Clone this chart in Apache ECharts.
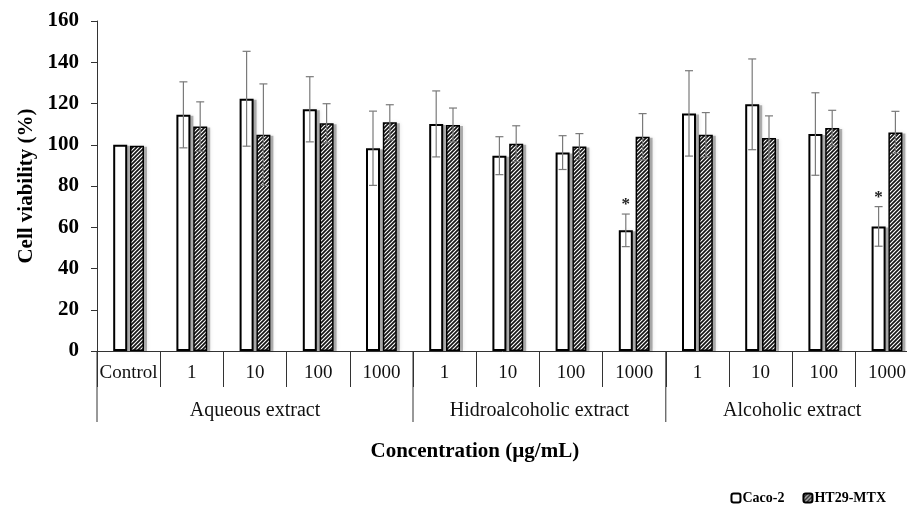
<!DOCTYPE html>
<html>
<head>
<meta charset="utf-8">
<script src="https://cdn.jsdelivr.net/npm/echarts@6/dist/echarts.min.js"></script>
<style>
  html, body { margin: 0; padding: 0; background: #fff; }
  #chart { width: 907px; height: 507px; }
</style>
</head>
<body>
<div id="chart"></div>
<script>
// concentrations (µg/mL), one per bar pair
const categories = ['Control', '1', '10', '100', '1000', '1', '10', '100', '1000', '1', '10', '100', '1000'];
// extract groups: first and last category index
const groupNames = ['Aqueous extract', 'Hidroalcoholic extract', 'Alcoholic extract'];
const groupStart = [0, 5, 9];
const groupEnd = [4, 8, 12];

const cacoMean = [100, 114.5, 122.3, 117.2, 98.3, 110.1, 94.7, 96.2, 58.5, 115.2, 119.6, 105.2, 60.4];
const cacoErr = [0, 16, 23, 15.8, 18, 16, 9.2, 8.2, 7.9, 20.7, 22, 20, 9.6];
const htMean = [99.5, 108.8, 104.9, 110.4, 110.9, 109.6, 100.5, 99.1, 103.9, 104.9, 103.3, 108.1, 106];
const htErr = [0, 12, 24.6, 9.5, 8.5, 8.2, 8.7, 6.3, 11.2, 10.7, 10.7, 8.6, 10.2];
const cacoSig = [false, false, false, false, false, false, false, false, true, false, false, false, true];

const yTicks = { min: 0, max: 160, interval: 20 };

const FONT = "'Liberation Serif', 'Times New Roman', serif";
const BAR_W = 14;
const BAR_GAP = 0.2;
const SHIFT = (BAR_W * (1 + BAR_GAP)) / 2;

// diagonal hatch for the HT29-MTX bars
function hatch() {
  const s = 4;
  const c = document.createElement('canvas');
  c.width = s; c.height = s;
  const g = c.getContext('2d');
  g.fillStyle = '#fff';
  g.fillRect(0, 0, s, s);
  g.strokeStyle = '#151515';
  g.lineWidth = 1.7;
  g.beginPath();
  g.moveTo(-1, s + 1); g.lineTo(s + 1, -1);
  g.moveTo(-1, 1); g.lineTo(1, -1);
  g.moveTo(s - 1, s + 1); g.lineTo(s + 1, s - 1);
  g.stroke();
  return c;
}

// soft drop shadow behind each bar
function shadowSeries(mean, side) {
  return {
    type: 'custom',
    z: 1,
    silent: true,
    data: mean.map((m, i) => [i, m]),
    renderItem(params, api) {
      const top = api.coord([api.value(0), api.value(1)]);
      const base = api.coord([api.value(0), 0]);
      const x = top[0] + side * SHIFT - BAR_W / 2 + 3;
      return {
        type: 'rect',
        shape: { x: x, y: top[1] + 1, width: BAR_W, height: base[1] - top[1] - 1 },
        style: { fill: 'rgba(0,0,0,0.28)', shadowColor: 'rgba(0,0,0,0.4)', shadowBlur: 4 }
      };
    }
  };
}

function errorSeries(mean, err, sig, side) {
  const shift = side * SHIFT;
  return {
    type: 'custom',
    z: 5,
    silent: true,
    clip: false,
    data: mean.map((m, i) => [i, m, err[i], sig && sig[i] ? 1 : 0]),
    renderItem(params, api) {
      const i = api.value(0), m = api.value(1), e = api.value(2);
      const top = api.coord([i, m + e]);
      const bot = api.coord([i, m - e]);
      const x = top[0] + shift;
      const children = [];
      if (e > 0) {
        const style = { stroke: '#7a7a7a', lineWidth: 1.2 };
        children.push(
          { type: 'line', shape: { x1: x, y1: top[1], x2: x, y2: bot[1] }, style },
          { type: 'line', shape: { x1: x - 4, y1: top[1], x2: x + 4, y2: top[1] }, style },
          { type: 'line', shape: { x1: x - 4, y1: bot[1], x2: x + 4, y2: bot[1] }, style }
        );
      }
      if (api.value(3)) {
        children.push({
          type: 'text',
          style: { x: x, y: top[1] - 1, text: '*', fill: '#222', font: 'bold 17px ' + FONT, align: 'center', verticalAlign: 'bottom' }
        });
      }
      return { type: 'group', children };
    }
  };
}

const chart = echarts.init(document.getElementById('chart'), null, { renderer: 'canvas' });

const option = {
  animation: false,
  backgroundColor: '#fff',
  textStyle: { fontFamily: FONT },
  grid: { left: 97, top: 21, bottom: 156, width: categories.length * 63.2, outerBoundsMode: 'none', containLabel: false },
  legend: {
    right: 16, top: 486,
    itemWidth: 9, itemHeight: 9, itemGap: 18,
    textStyle: { fontFamily: FONT, fontWeight: 'bold', fontSize: 14, color: '#000', padding: [0, 0, 0, -3] },
    data: ['Caco-2', 'HT29-MTX']
  },
  xAxis: {
    type: 'category',
    data: categories,
    name: 'Concentration (µg/mL)',
    nameLocation: 'middle',
    nameGap: 90,
    nameTextStyle: { fontFamily: FONT, fontWeight: 'bold', fontSize: 21, color: '#000', padding: [0, 66, 0, 0] },
    axisLine: { lineStyle: { color: '#333', width: 1 } },
    axisTick: { show: true, interval: 0, length: 36, lineStyle: { color: '#333', width: 1 } },
    axisLabel: { interval: 0, fontFamily: FONT, fontSize: 19, color: '#111', margin: 13 },
    splitLine: { show: false }
  },
  yAxis: {
    type: 'value',
    min: yTicks.min, max: yTicks.max, interval: yTicks.interval,
    name: 'Cell viability (%)',
    nameLocation: 'middle',
    nameGap: 60,
    nameTextStyle: { fontFamily: FONT, fontWeight: 'bold', fontSize: 21, color: '#000' },
    axisLine: { show: true, lineStyle: { color: '#333', width: 1 } },
    axisTick: { show: true, length: 6, lineStyle: { color: '#333' } },
    axisLabel: { fontFamily: FONT, fontWeight: 'bold', fontSize: 21, color: '#000', margin: 18 },
    splitLine: { show: false }
  },
  series: [
    {
      name: 'Caco-2',
      type: 'bar',
      z: 2,
      data: cacoMean,
      barWidth: BAR_W,
      barGap: (BAR_GAP * 100) + '%',
      itemStyle: { color: '#fff', borderColor: '#000', borderWidth: 2 }
    },
    {
      name: 'HT29-MTX',
      type: 'bar',
      z: 2,
      data: htMean,
      barWidth: BAR_W,
      itemStyle: { color: { image: hatch(), repeat: 'repeat' }, borderColor: '#000', borderWidth: 1.5 }
    },
    shadowSeries(cacoMean, -1),
    shadowSeries(htMean, 1),
    errorSeries(cacoMean, cacoErr, cacoSig, -1),
    errorSeries(htMean, htErr, null, 1),
    {
      // extract groups under the category labels
      type: 'custom',
      silent: true,
      clip: false,
      data: groupNames.map((n, k) => [groupStart[k], groupEnd[k], k]),
      renderItem(params, api) {
        const band = api.size([1, 0])[0];
        const a = api.coord([api.value(0), 0]);
        const b = api.coord([api.value(1), 0]);
        const x0 = a[0] - band / 2, x1 = b[0] + band / 2;
        const y = a[1];
        return {
          type: 'group',
          children: [
            { type: 'line', shape: { x1: x0, y1: y, x2: x0, y2: y + 71 }, style: { stroke: '#333', lineWidth: 1 } },
            {
              type: 'text',
              style: {
                x: (x0 + x1) / 2, y: y + 60,
                text: groupNames[api.value(2)],
                fill: '#111', font: '20px ' + FONT, align: 'center', verticalAlign: 'middle'
              }
            }
          ]
        };
      }
    }
  ]
};

chart.setOption(option);
</script>
</body>
</html>
